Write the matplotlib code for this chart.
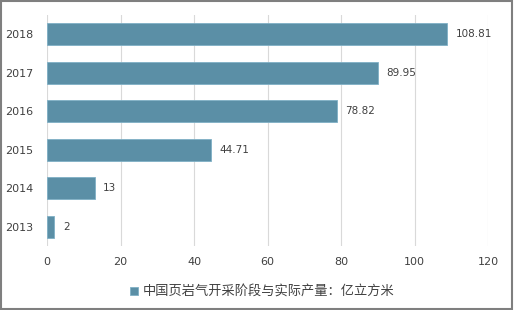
import matplotlib
matplotlib.use('Agg')
import matplotlib.pyplot as plt
from matplotlib.patches import Rectangle

plt.rcParams['font.family'] = ['Noto Sans CJK SC', 'DejaVu Sans']

# data
years = ['2013', '2014', '2015', '2016', '2017', '2018']
output = [2, 13, 44.71, 78.82, 89.95, 108.81]
labels = ['2', '13', '44.71', '78.82', '89.95', '108.81']
legend_name = '中国页岩气开采阶段与实际产量：亿立方米'

bar_color = '#5b8fa6'
text_color = '#404040'

fig = plt.figure(figsize=(5.14, 3.10), dpi=100)
ax = fig.add_axes([47 / 514, 1 - 246.3 / 310, 441 / 514, 231.6 / 310])

ypos = range(len(years))
bars = ax.barh(ypos, output, height=0.57, color=bar_color,
               edgecolor='#7fb0c6', linewidth=0.6, zorder=3, label=legend_name)
for i, v in enumerate(output):
    ax.text(v + 2.3, i, labels[i], va='center', ha='left',
            fontsize=7.5, color=text_color, family='DejaVu Sans')

ax.set_xlim(0, 120)
ax.set_ylim(-0.5, 5.5)
ax.set_xticks(range(0, 121, 20))
ax.set_yticks(list(ypos))
ax.set_yticklabels(years)
ax.tick_params(axis='both', length=0, labelsize=8, colors=text_color)
ax.tick_params(axis='x', pad=8)
ax.tick_params(axis='y', pad=10)
for lbl in ax.get_xticklabels() + ax.get_yticklabels():
    lbl.set_family('DejaVu Sans')
ax.grid(axis='x', color='#d9d9d9', linewidth=0.8, zorder=0)
for s in ax.spines.values():
    s.set_visible(False)

fig.legend(handles=[bars], labels=[legend_name], loc='center',
           bbox_to_anchor=(0.51, 1 - 292 / 310), frameon=False,
           fontsize=9.5, handlelength=0.6, handleheight=0.6, handletextpad=0.4,
           labelcolor=text_color)

# outer frame
fig.patches.append(Rectangle((0.002, 0.003), 0.995, 0.994, transform=fig.transFigure,
                             fill=False, edgecolor='#7f7f7f', linewidth=1.5))

fig.savefig('out.png', dpi=100)
